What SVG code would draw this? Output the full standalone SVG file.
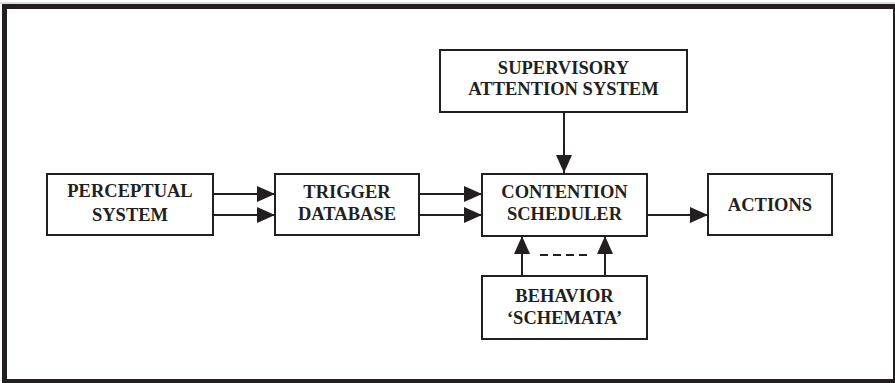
<svg xmlns="http://www.w3.org/2000/svg" width="895" height="383" viewBox="0 0 895 383">
<style>
.box{fill:#fff;stroke:#231f20;stroke-width:2}
.lbl{font-family:"Liberation Serif","Times New Roman",serif;font-weight:bold;font-size:18.5px;fill:#231f20;text-anchor:middle}
.ln{stroke:#231f20;stroke-width:2;fill:none}
</style>
<defs>
<marker id="ah" markerWidth="18" markerHeight="16" refX="18" refY="8" orient="auto" markerUnits="userSpaceOnUse">
<path d="M0,0 L18,8 L0,16 Z" fill="#231f20"/>
</marker>
</defs>
<rect x="0" y="0" width="895" height="383" fill="#fff"/>
<g id="frame">
<rect x="0" y="2.5" width="895" height="1" fill="#bbb"/>
<rect x="2" y="4" width="893" height="5" fill="#231f20"/>
<rect x="2" y="4" width="5" height="379" fill="#231f20"/>
<rect x="893" y="4" width="2" height="379" fill="#231f20"/>
<rect x="2" y="379" width="893" height="4" fill="#231f20"/>
</g>
<g id="connectors">
<line class="ln" x1="213" y1="194" x2="275" y2="194" marker-end="url(#ah)"/>
<line class="ln" x1="213" y1="215" x2="275" y2="215" marker-end="url(#ah)"/>
<line class="ln" x1="419" y1="194" x2="482" y2="194" marker-end="url(#ah)"/>
<line class="ln" x1="419" y1="215" x2="482" y2="215" marker-end="url(#ah)"/>
<line class="ln" x1="564" y1="112" x2="564" y2="173" marker-end="url(#ah)"/>
<line class="ln" x1="647" y1="215" x2="708" y2="215" marker-end="url(#ah)"/>
<line class="ln" x1="522" y1="276" x2="522" y2="236" marker-end="url(#ah)"/>
<line class="ln" x1="605" y1="276" x2="605" y2="236" marker-end="url(#ah)"/>
<line class="ln" x1="540" y1="255" x2="587" y2="255" stroke-dasharray="8,5"/>
</g>
<g id="perceptual">
<rect class="box" x="47" y="174" width="166" height="61"/>
<text class="lbl" x="130" y="197">PERCEPTUAL</text>
<text class="lbl" x="130" y="221">SYSTEM</text>
</g>
<g id="trigger">
<rect class="box" x="275" y="174" width="144" height="61"/>
<text class="lbl" x="347" y="198">TRIGGER</text>
<text class="lbl" x="347" y="220">DATABASE</text>
</g>
<g id="supervisory">
<rect class="box" x="440" y="50" width="247" height="62"/>
<text class="lbl" x="563.5" y="74">SUPERVISORY</text>
<text class="lbl" x="563.5" y="95">ATTENTION SYSTEM</text>
</g>
<g id="contention">
<rect class="box" x="482" y="174" width="165" height="62"/>
<text class="lbl" x="564.5" y="198">CONTENTION</text>
<text class="lbl" x="564.5" y="220">SCHEDULER</text>
</g>
<g id="actions">
<rect class="box" x="708" y="174" width="124" height="61"/>
<text class="lbl" x="770" y="211">ACTIONS</text>
</g>
<g id="behavior">
<rect class="box" x="482" y="276" width="165" height="63"/>
<text class="lbl" x="564.5" y="302">BEHAVIOR</text>
<text class="lbl" x="564.5" y="324">‘SCHEMATA’</text>
</g>
</svg>
